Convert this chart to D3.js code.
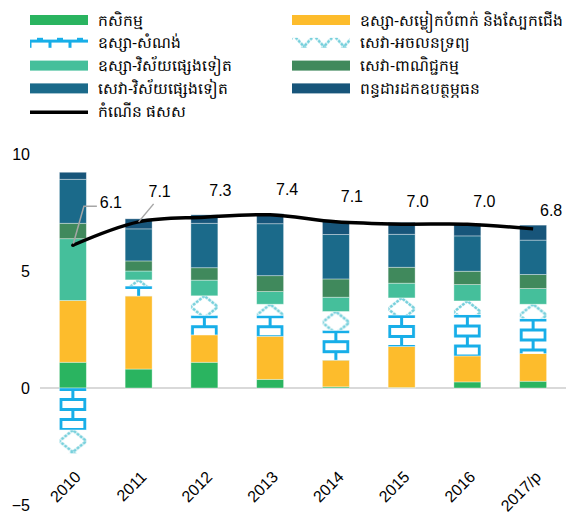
<!DOCTYPE html>
<html>
<head>
<meta charset="utf-8">
<script src="https://cdn.jsdelivr.net/npm/d3@7"></script>
<style>
  body { margin: 0; background: #fff; }
  text { font-family: Arial, "Liberation Sans", sans-serif; }
</style>
</head>
<body>
<div id="chart"></div>
<script>
const years = ["2010", "2011", "2012", "2013", "2014", "2015", "2016", "2017/p"];
const agriculture   = [1.1, 0.81, 1.1, 0.37, 0.05, 0.02, 0.26, 0.29];
const garment       = [2.64, 3.12, 1.17, 1.84, 1.14, 1.75, 1.11, 1.18];
const construction  = [-1.8, 0.43, 0.84, 0.9, 1.28, 1.35, 1.77, 1.5];
const realEstate    = [-1.0, 0.26, 0.83, 0.47, 0.8, 0.73, 0.58, 0.61];
const otherIndustry = [2.64, 0.38, 0.67, 0.54, 0.61, 0.63, 0.7, 0.67];
const trade         = [0.66, 0.43, 0.53, 0.68, 0.78, 0.68, 0.57, 0.6];
const otherServices = [1.88, 1.37, 1.9, 2.22, 1.9, 1.41, 1.51, 1.47];
const taxes         = [0.3, 0.43, 0.36, 0.43, 0.58, 0.51, 0.53, 0.64];
const gdpGrowth     = [6.1, 7.1, 7.3, 7.4, 7.1, 7.0, 7.0, 6.8];
const gdpLabels     = ["6.1", "7.1", "7.3", "7.4", "7.1", "7.0", "7.0", "6.8"];
const yTicks        = [-5, 0, 5, 10];

const seriesNames = [
  "កសិកម្ម",
  "ឧស្សា-សម្លៀកបំពាក់ និងស្បែកជើង",
  "ឧស្សា-សំណង់",
  "សេវា-អចលនទ្រព្យ",
  "ឧស្សា-វិស័យផ្សេងទៀត",
  "សេវា-ពាណិជ្ជកម្ម",
  "សេវា-វិស័យផ្សេងទៀត",
  "ពន្ធដារដកឧបត្ថម្ភធន"
];
const lineName = "កំណើន ផសស";

const keys = ["agriculture", "garment", "construction", "realEstate",
  "otherIndustry", "trade", "otherServices", "taxes"];
const seriesValues = [agriculture, garment, construction, realEstate,
  otherIndustry, trade, otherServices, taxes];

const colors = {
  agriculture: "#2ab460",
  garment: "#fdbc2c",
  otherIndustry: "#45bf9b",
  trade: "#40895c",
  otherServices: "#1b6a8a",
  taxes: "#17557a"
};
const patterned = { construction: "brick", realEstate: "diamond" };

// layout nudges for the hand-placed data labels (dx, dy from the line point)
const labelNudge = [[38, -43], [21, -30], [16, -27], [17, -25], [16, -25], [16, -23], [17, -23], [18, -18]];

const width = 574, height = 514;

const svg = d3.select("#chart").append("svg")
  .attr("width", width)
  .attr("height", height);

const defs = svg.append("defs");

const x = d3.scaleBand()
  .domain(years)
  .range([40, 566])
  .paddingInner(0.59)
  .paddingOuter(0.295);

const y = d3.scaleLinear()
  .domain([-5, 10])
  .range([505, 154]);

const bw = x.bandwidth();

function makePattern(id, type, px, py, w) {
  const h = type === "brick" ? 20 : 22;
  const p = defs.append("pattern")
    .attr("id", id)
    .attr("patternUnits", "userSpaceOnUse")
    .attr("x", px)
    .attr("y", py)
    .attr("width", w)
    .attr("height", h);
  p.append("rect").attr("width", w).attr("height", h).attr("fill", "#fff");
  if (type === "brick") {
    const m = w / 2;
    p.append("path")
      .attr("d", `M0,1.5H${w}M0,11.5H${w}M${m},1.5V11.5M1.5,11.5V21.5M${w - 1.5},11.5V21.5`)
      .attr("stroke", "#17aee8")
      .attr("stroke-width", 3)
      .attr("fill", "none");
  } else {
    const m = w / 2;
    p.append("path")
      .attr("d", `M-${m},${h}L0,${h / 2}L${m},0L${w},${h / 2}L${w + m},${h}` +
        `M-${m},0L0,${h / 2}L${m},${h}L${w},${h / 2}L${w + m},0`)
      .attr("stroke", "#74cfdb")
      .attr("stroke-width", 2.6)
      .attr("stroke-dasharray", "3,1")
      .attr("fill", "none");
  }
  return `url(#${id})`;
}

const table = years.map((yr, i) => {
  const row = { year: yr };
  keys.forEach((k, j) => { row[k] = seriesValues[j][i]; });
  return row;
});

const stack = d3.stack().keys(keys).offset(d3.stackOffsetDiverging);
const layers = stack(table);

// zero line
svg.append("line")
  .attr("x1", 40)
  .attr("x2", 566)
  .attr("y1", y(0))
  .attr("y2", y(0))
  .attr("stroke", "#d9d9d9")
  .attr("stroke-width", 2);

svg.append("g")
  .selectAll("g")
  .data(layers)
  .join("g")
  .selectAll("rect")
  .data(d => d.map(v => Object.assign(v, { key: d.key })))
  .join("rect")
  .attr("x", d => x(d.data.year))
  .attr("width", bw)
  .attr("y", d => y(Math.max(d[0], d[1])))
  .attr("height", d => Math.abs(y(d[0]) - y(d[1])))
  .attr("fill", (d, i) => patterned[d.key]
    ? makePattern(`${d.key}-${i}`, patterned[d.key], x(d.data.year), y(Math.max(d[0], d[1])), bw)
    : colors[d.key])
  .attr("stroke", "#ffffff")
  .attr("stroke-opacity", 0.45)
  .attr("stroke-width", 0.8);

// y axis
const yAxis = svg.append("g")
  .attr("transform", "translate(30,0)")
  .call(d3.axisLeft(y).tickValues(yTicks).tickSize(0).tickPadding(0));
yAxis.select(".domain").remove();
yAxis.selectAll("text")
  .style("font-size", "16px")
  .style("font-family", "Arial, 'Liberation Sans', sans-serif")
  .attr("fill", "#000");

// x labels
svg.append("g")
  .selectAll("text")
  .data(years)
  .join("text")
  .attr("transform", d => `translate(${x(d) + bw / 2 + 9},${478}) rotate(-45)`)
  .attr("text-anchor", "end")
  .style("font-size", "16px")
  .text(d => d);

// GDP line
const cx = i => x(years[i]) + bw / 2;
const line = d3.line()
  .x((d, i) => cx(i))
  .y(d => y(d))
  .curve(d3.curveCatmullRom);

svg.append("path")
  .datum(gdpGrowth)
  .attr("d", line)
  .attr("fill", "none")
  .attr("stroke", "#000")
  .attr("stroke-width", 3.5)
  .attr("stroke-linecap", "butt");

// leader lines for first two labels
svg.append("path")
  .attr("d", `M${cx(0) + labelNudge[0][0] - 14},${y(gdpGrowth[0]) + labelNudge[0][1] + 4}` +
    `H${cx(0) + 11}L${cx(0)},${y(gdpGrowth[0])}`)
  .attr("fill", "none")
  .attr("stroke", "#a6a6a6")
  .attr("stroke-width", 1.5);
svg.append("path")
  .attr("d", `M${cx(1) + labelNudge[1][0] - 6},${y(gdpGrowth[1]) + labelNudge[1][1] + 12}` +
    `L${cx(1)},${y(gdpGrowth[1])}`)
  .attr("fill", "none")
  .attr("stroke", "#a6a6a6")
  .attr("stroke-width", 1.5);

svg.append("circle")
  .attr("cx", cx(0))
  .attr("cy", y(gdpGrowth[0]))
  .attr("r", 1.8)
  .attr("fill", "#000");

svg.append("g")
  .selectAll("text")
  .data(gdpLabels)
  .join("text")
  .attr("x", (d, i) => cx(i) + labelNudge[i][0])
  .attr("y", (d, i) => y(gdpGrowth[i]) + labelNudge[i][1])
  .attr("text-anchor", "middle")
  .attr("dominant-baseline", "central")
  .style("font-size", "16px")
  .text(d => d);

// legend
const legendItems = keys.map((k, i) => ({ key: k, name: seriesNames[i] }));
legendItems.push({ key: "gdp", name: lineName });

const legend = svg.append("g")
  .selectAll("g")
  .data(legendItems)
  .join("g")
  .attr("transform", (d, i) => `translate(${i % 2 === 0 ? 30 : 292},${20 + Math.floor(i / 2) * 22.8})`);

legend.filter(d => d.key !== "gdp")
  .append("rect")
  .attr("x", 0)
  .attr("y", -5)
  .attr("width", 58)
  .attr("height", 10)
  .attr("fill", (d, i) => {
    if (!patterned[d.key]) return colors[d.key];
    const idx = keys.indexOf(d.key);
    return makePattern(`legend-${d.key}`, patterned[d.key],
      idx % 2 === 0 ? 30 : 292, 20 + Math.floor(idx / 2) * 22.8 - 6, 20);
  });

legend.filter(d => d.key === "gdp")
  .append("line")
  .attr("x1", 0)
  .attr("x2", 58)
  .attr("y1", 1)
  .attr("y2", 1)
  .attr("stroke", "#000")
  .attr("stroke-width", 3.5);

legend.append("text")
  .attr("x", 68)
  .attr("y", 0)
  .attr("dominant-baseline", "central")
  .style("font-size", "15.5px")
  .text(d => d.name);
</script>
</body>
</html>
